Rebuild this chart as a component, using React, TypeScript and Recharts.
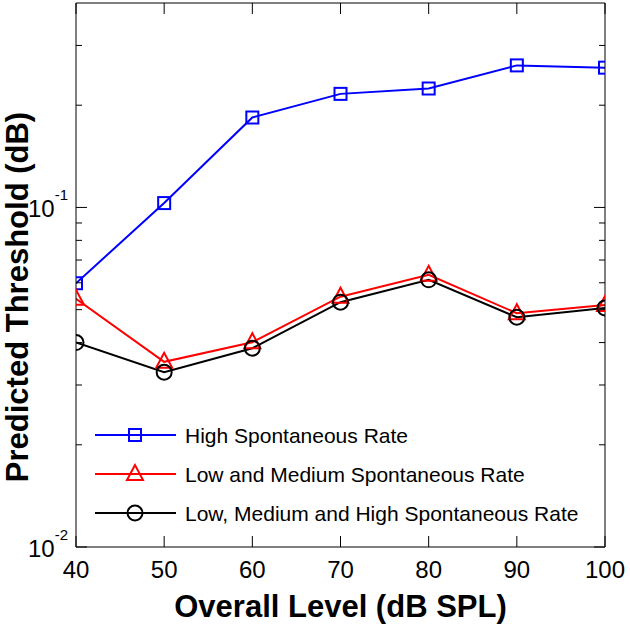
import { LineChart, Line, XAxis, YAxis, Legend } from "recharts";

const levels = [40, 50, 60, 70, 80, 90, 100];
const highRate = [0.0598, 0.103, 0.184, 0.216, 0.224, 0.262, 0.258];
const lowMedRate = [0.0538, 0.0351, 0.0401, 0.0546, 0.0633, 0.0488, 0.0516];
const allRate = [0.04, 0.0327, 0.0385, 0.0526, 0.0612, 0.0475, 0.0506];

const xTicks = [40, 50, 60, 70, 80, 90, 100];
const yTicks = [0.01, 0.02, 0.03, 0.04, 0.05, 0.06, 0.07, 0.08, 0.09, 0.1, 0.2, 0.3];
const yMajor = [0.01, 0.1];
const yMajorLabels = ["-2", "-1"];

const seriesNames = [
  "High Spontaneous Rate",
  "Low and Medium Spontaneous Rate",
  "Low, Medium and High Spontaneous Rate",
];
const seriesKeys = ["high", "lowMed", "all"];
const seriesColors = ["#0000ff", "#ff0000", "#000000"];
const seriesMarkers = ["square", "triangle", "circle"];

const data = levels.map((level, i) => ({
  level,
  high: highRate[i],
  lowMed: lowMedRate[i],
  all: allRate[i],
}));

const font = "'Liberation Sans', Arial, Helvetica, sans-serif";

function Marker({ kind, cx, cy, color }: any) {
  if (kind === "square")
    return <rect x={cx - 6} y={cy - 6} width={12} height={12} fill="none" stroke={color} strokeWidth={2} />;
  if (kind === "triangle")
    return (
      <polygon
        points={`${cx},${cy - 9} ${cx - 8},${cy + 6} ${cx + 8},${cy + 6}`}
        fill="none"
        stroke={color}
        strokeWidth={2}
      />
    );
  return <circle cx={cx} cy={cy} r={7.5} fill="none" stroke={color} strokeWidth={2} />;
}

const dotFor = (kind: string, color: string) => (p: any) =>
  <Marker key={`${kind}-${p.index}`} kind={kind} cx={p.cx} cy={p.cy} color={color} />;

function LeftTick({ x, y, payload }: any) {
  const m = yMajor.indexOf(payload.value);
  return (
    <g>
      <line x1={x} y1={y} x2={x + (m >= 0 ? 11 : 6)} y2={y} stroke="#000" />
      {m >= 0 && (
        <text x={x - 8} y={y + 10} textAnchor="end" fontSize={24} fontFamily={font} fill="#000">
          <tspan>10</tspan>
          <tspan dy={-17} fontSize={15}>{yMajorLabels[m]}</tspan>
        </text>
      )}
    </g>
  );
}

function RightTick({ x, y, payload }: any) {
  const m = yMajor.indexOf(payload.value);
  return <line x1={x} y1={y} x2={x - (m >= 0 ? 11 : 6)} y2={y} stroke="#000" />;
}

function BottomTick({ x, y, payload }: any) {
  return (
    <g>
      <line x1={x} y1={y} x2={x} y2={y - 11} stroke="#000" />
      <text x={x} y={y + 31} textAnchor="middle" fontSize={24} fontFamily={font} fill="#000">
        {payload.value}
      </text>
    </g>
  );
}

function TopTick({ x, y }: any) {
  return <line x1={x} y1={y} x2={x} y2={y + 11} stroke="#000" />;
}

function renderLegend() {
  return (
    <svg width={500} height={120} style={{ display: "block" }}>
      {seriesNames.map((name, i) => {
        const cy = 20 + i * 39;
        return (
          <g key={name}>
            <line x1={0} y1={cy} x2={81} y2={cy} stroke={seriesColors[i]} strokeWidth={2} />
            <Marker kind={seriesMarkers[i]} cx={40} cy={cy} color={seriesColors[i]} />
            <text x={90} y={cy + 7.5} fontSize={21} fontFamily={font} fill="#000">
              {name}
            </text>
          </g>
        );
      })}
    </svg>
  );
}

export default function App() {
  return (
    <div style={{ position: "absolute", left: 0, top: 0, background: "#fff" }}>
      <LineChart width={630} height={625} data={data} margin={{ top: 0, right: 0, bottom: 0, left: 0 }}>
        <XAxis
          dataKey="level"
          type="number"
          domain={[40, 100]}
          ticks={xTicks}
          interval={0}
          allowDataOverflow
          height={78}
          tickSize={0}
          tickMargin={0}
          tickLine={false}
          axisLine={{ stroke: "#000" }}
          tick={<BottomTick />}
          label={{
            content: ({ viewBox }: any) => (
              <text
                x={viewBox.x + viewBox.width / 2}
                y={viewBox.y + 70}
                textAnchor="middle"
                fontSize={31}
                fontWeight="bold"
                fontFamily={font}
                fill="#000"
              >
                Overall Level (dB SPL)
              </text>
            ),
          }}
        />
        <XAxis
          xAxisId="top"
          orientation="top"
          dataKey="level"
          type="number"
          domain={[40, 100]}
          ticks={xTicks}
          interval={0}
          allowDataOverflow
          height={3}
          tickSize={0}
          tickMargin={0}
          tickLine={false}
          axisLine={{ stroke: "#000" }}
          tick={<TopTick />}
        />
        <YAxis
          type="number"
          scale="log"
          domain={[0.01, 0.4]}
          ticks={yTicks}
          interval={0}
          allowDataOverflow
          width={76}
          tickSize={0}
          tickMargin={0}
          tickLine={false}
          axisLine={{ stroke: "#000" }}
          tick={<LeftTick />}
          label={{
            content: ({ viewBox }: any) => {
              const cx = 28;
              const cy = viewBox.y + viewBox.height / 2 + 22;
              return (
                <text
                  x={cx}
                  y={cy}
                  transform={`rotate(-90, ${cx}, ${cy})`}
                  textAnchor="middle"
                  fontSize={31}
                  fontWeight="bold"
                  fontFamily={font}
                  fill="#000"
                >
                  Predicted Threshold (dB)
                </text>
              );
            },
          }}
        />
        <YAxis
          yAxisId="right"
          orientation="right"
          type="number"
          scale="log"
          domain={[0.01, 0.4]}
          ticks={yTicks}
          interval={0}
          allowDataOverflow
          width={25}
          tickSize={0}
          tickMargin={0}
          tickLine={false}
          axisLine={{ stroke: "#000" }}
          tick={<RightTick />}
        />
        <Legend
          layout="horizontal"
          verticalAlign="middle"
          align="center"
          width={500}
          wrapperStyle={{ left: 95, top: 415, width: 500 }}
          content={renderLegend}
        />
        {seriesKeys.map((key, i) => (
          <Line
            key={key}
            dataKey={key}
            name={seriesNames[i]}
            stroke={seriesColors[i]}
            strokeWidth={2}
            dot={dotFor(seriesMarkers[i], seriesColors[i])}
            activeDot={false}
            isAnimationActive={false}
          />
        ))}
      </LineChart>
    </div>
  );
}
